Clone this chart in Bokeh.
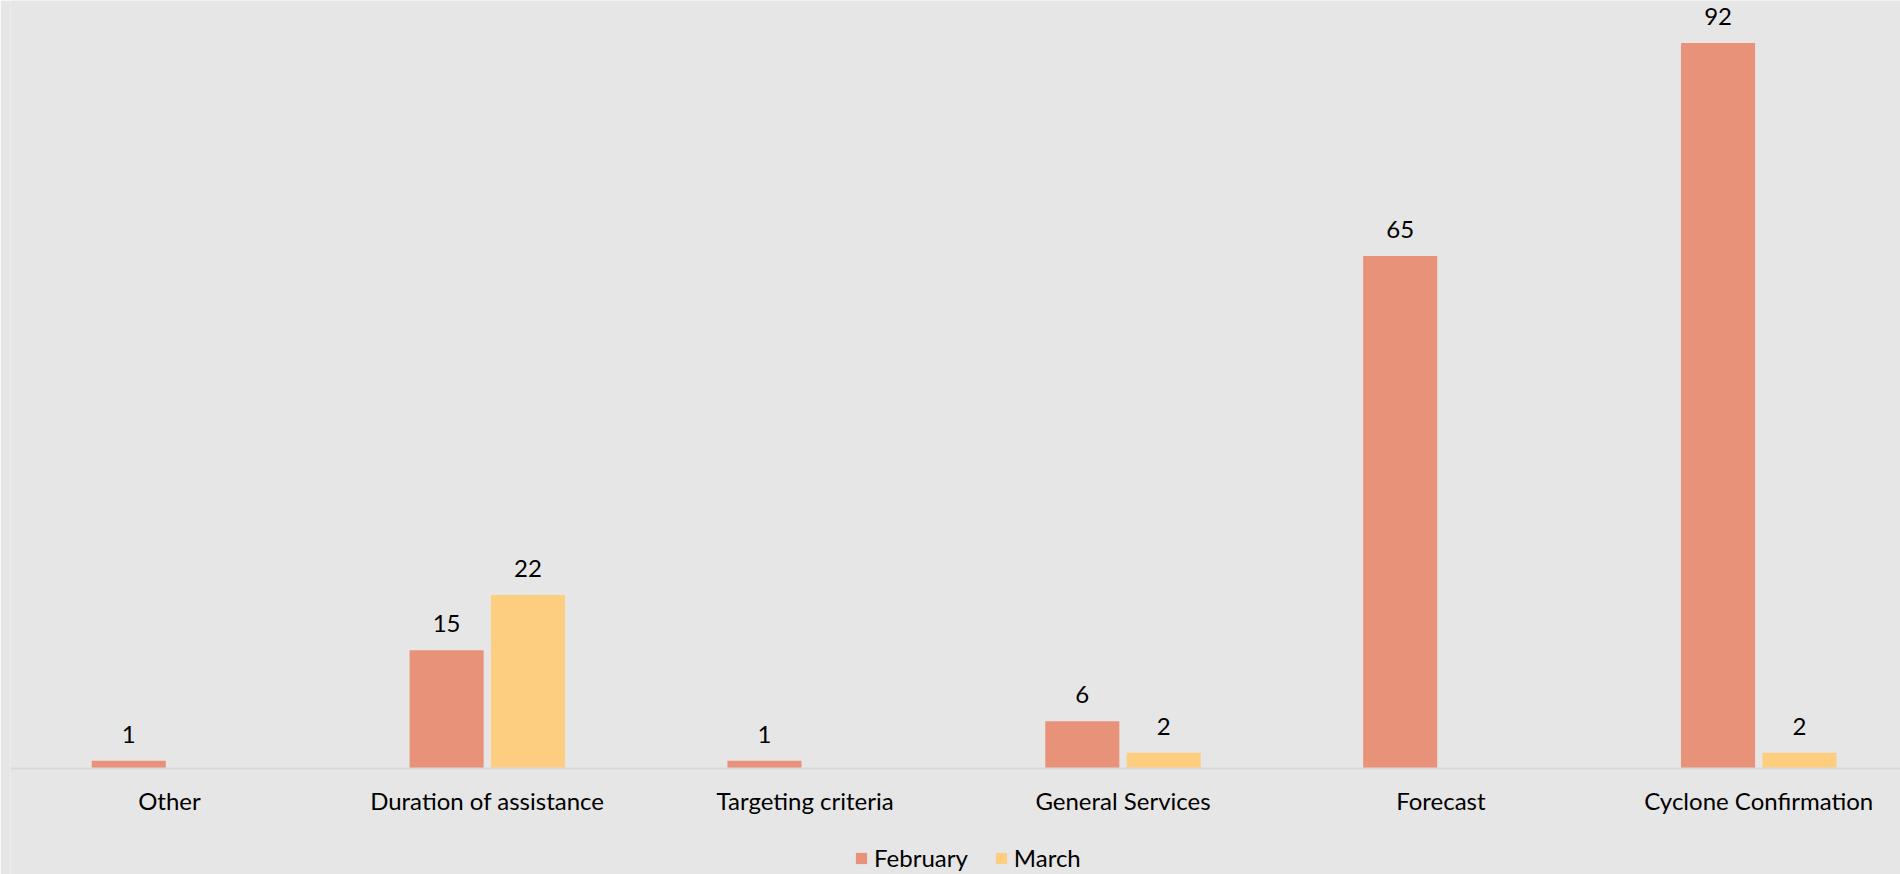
from bokeh.plotting import figure
from bokeh.models import ColumnDataSource, Legend, LegendItem, Range1d, FixedTicker
from bokeh.transform import dodge
from bokeh.core.properties import value
from bokeh.embed import file_html
from bokeh.resources import INLINE

categories = ["Other", "Duration of assistance", "Targeting criteria",
              "General Services", "Forecast", "Cyclone Confirmation"]
february = [1, 15, 1, 6, 65, 92]
march = [0, 22, 0, 2, 0, 2]

FEB_COLOR = "#E8927A"
MAR_COLOR = "#FDCE80"
BG = "#E6E6E6"
FONT = "Lato"

pos = [i + 0.5 for i in range(len(categories))]
feb_labels = [str(v) if v else "" for v in february]
mar_labels = [str(v) if v else "" for v in march]

src = ColumnDataSource(dict(pos=pos, cat=categories, feb=february, mar=march,
                            feb_lab=feb_labels, mar_lab=mar_labels))

p = figure(width=1900, height=874, output_backend="svg",
           toolbar_location=None, min_border_left=10, min_border_right=0,
           min_border_top=0, min_border_bottom=0)
p.x_range = Range1d(0, 5.946)
p.y_range = Range1d(-13.44, 97.4)
p.background_fill_color = BG
p.border_fill_color = BG
p.outline_line_color = None
p.grid.visible = False
p.yaxis.visible = False

OFF = 0.128
W = 0.233
r_feb = p.vbar(x=dodge("pos", -OFF), top="feb", width=W,
               source=src, color=FEB_COLOR, line_color=None)
r_mar = p.vbar(x=dodge("pos", OFF), top="mar", width=W,
               source=src, color=MAR_COLOR, line_color=None)

p.text(x=dodge("pos", -OFF), y="feb", text="feb_lab", source=src,
       text_align="center", text_baseline="bottom", y_offset=-18,
       text_font=value(FONT), text_font_size="24px", text_color="#000000")
p.text(x=dodge("pos", OFF), y="mar", text="mar_lab", source=src,
       text_align="center", text_baseline="bottom", y_offset=-18,
       text_font=value(FONT), text_font_size="24px", text_color="#000000")

ax = p.xaxis[0]
ax.fixed_location = 0
ax.ticker = FixedTicker(ticks=pos)
ax.major_label_overrides = {v: c for v, c in zip(pos, categories)}
ax.axis_line_color = "#D9D9D9"
ax.axis_line_width = 2
ax.major_tick_line_color = None
ax.minor_tick_line_color = None
ax.major_label_text_font = FONT
ax.major_label_text_font_size = "24px"
ax.major_label_text_color = "#000000"
ax.major_label_standoff = 11

legend = Legend(items=[LegendItem(label="February", renderers=[r_feb]),
                       LegendItem(label="March", renderers=[r_mar])],
                orientation="horizontal", location=(844, 2),
                background_fill_alpha=0, border_line_color=None,
                label_text_font=FONT, label_text_font_size="24px",
                label_text_color="#000000",
                glyph_width=14, glyph_height=14, spacing=26, padding=0, margin=0,
                label_standoff=6)
p.add_layout(legend, "center")

open("out.html", "w").write(file_html(p, INLINE))
